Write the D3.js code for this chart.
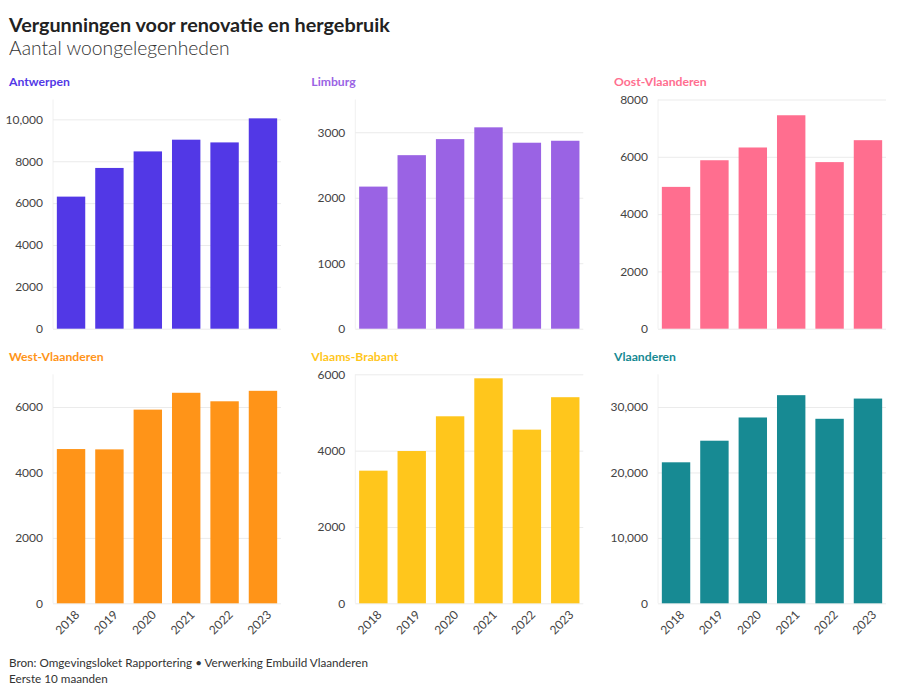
<!DOCTYPE html>
<html>
<head>
<meta charset="utf-8">
<script src="https://cdn.jsdelivr.net/npm/d3@7"></script>
<style>
  body { margin: 0; background: #fff; }
  svg { display: block; font-family: "Source Sans Pro", Lato, "Noto Sans", sans-serif; }
</style>
</head>
<body>
<svg id="chart" width="900" height="694"></svg>
<script>
const years = ["2018", "2019", "2020", "2021", "2022", "2023"];
const regions = ["Antwerpen", "Limburg", "Oost-Vlaanderen", "West-Vlaanderen", "Vlaams-Brabant", "Vlaanderen"];
const colors = ["#5238e6", "#9a63e4", "#ff6e8f", "#ff9418", "#ffc61c", "#178a93"];
const antwerpen = [6310, 7680, 8470, 9030, 8900, 10050];
const limburg = [2170, 2650, 2895, 3075, 2840, 2870];
const oostVlaanderen = [4950, 5880, 6325, 7450, 5815, 6580];
const westVlaanderen = [4715, 4705, 5920, 6435, 6175, 6495];
const vlaamsBrabant = [3475, 3990, 4900, 5895, 4550, 5400];
const vlaanderen = [21550, 24850, 28400, 31810, 28200, 31290];
const domainMax = [10950, 3500, 8000, 7000, 6000, 35000];
const tickSets = [
  [0, 2000, 4000, 6000, 8000, 10000],
  [0, 1000, 2000, 3000],
  [0, 2000, 4000, 6000, 8000],
  [0, 2000, 4000, 6000],
  [0, 2000, 4000, 6000],
  [0, 10000, 20000, 30000]
];
const seriesList = [antwerpen, limburg, oostVlaanderen, westVlaanderen, vlaamsBrabant, vlaanderen];

const svg = d3.select("#chart");

svg.append("text").attr("x", 9).attr("y", 32)
  .attr("font-size", 19.8).attr("font-weight", 700).attr("fill", "#222")
  .text("Vergunningen voor renovatie en hergebruik");
svg.append("text").attr("x", 9).attr("y", 55)
  .attr("font-size", 19.3).attr("font-weight", 300).attr("fill", "#333")
  .text("Aantal woongelegenheden");

const colX = [0, 302.3, 605];
const rows = [{ top: 99.5, bottom: 328.7 }, { top: 374.3, bottom: 603.3 }];
const fmt = v => v >= 10000 ? d3.format(",")(v) : String(v);

regions.forEach((name, i) => {
  const col = i % 3, row = Math.floor(i / 3);
  const x0 = colX[col];
  const r = rows[row];
  const g = svg.append("g").attr("transform", `translate(${x0},0)`);

  g.append("text").attr("x", 9).attr("y", r.top - 13.5)
    .attr("font-size", 12.2).attr("font-weight", 700).attr("fill", colors[i])
    .text(name);

  const x = d3.scaleBand().domain(years).range([53, 281]).paddingInner(0.26).paddingOuter(0.1);
  const y = d3.scaleLinear().domain([0, domainMax[i]]).range([r.bottom, r.top]);

  // faint vertical axis line
  g.append("line").attr("x1", 53).attr("x2", 53).attr("y1", r.top).attr("y2", r.bottom)
    .attr("stroke", "#f0f0f0").attr("stroke-width", 1);

  const yAxis = d3.axisLeft(y).tickValues(tickSets[i]).tickFormat(fmt).tickSize(-228).tickPadding(10);
  const ya = g.append("g").attr("transform", "translate(53,0)").call(yAxis);
  ya.select(".domain").remove();
  ya.selectAll(".tick line").attr("stroke", "#ebebeb");
  ya.selectAll(".tick text").attr("font-size", 12).attr("fill", "#444")
    .attr("font-family", "Source Sans Pro, Lato, Noto Sans, sans-serif");

  g.selectAll("rect.bar").data(seriesList[i]).enter().append("rect")
    .attr("class", "bar")
    .attr("x", (d, j) => x(years[j]))
    .attr("width", x.bandwidth())
    .attr("y", d => y(d))
    .attr("height", d => y(0) - y(d))
    .attr("fill", colors[i]);

  if (row === 1) {
    const xAxis = d3.axisBottom(x).tickSize(0).tickPadding(0);
    const xa = g.append("g").attr("transform", `translate(0,${r.bottom})`).call(xAxis);
    xa.select(".domain").remove();
    xa.selectAll(".tick text")
      .attr("font-size", 12).attr("fill", "#444")
      .attr("font-family", "Source Sans Pro, Lato, Noto Sans, sans-serif")
      .attr("text-anchor", "end")
      .attr("dy", null).attr("y", 0)
      .attr("transform", "translate(6,9) rotate(-45)")
      .attr("dominant-baseline", "central");
  }
});

svg.append("text").attr("x", 9).attr("y", 667)
  .attr("font-size", 11.7).attr("fill", "#333")
  .text("Bron: Omgevingsloket Rapportering • Verwerking Embuild Vlaanderen");
svg.append("text").attr("x", 9).attr("y", 683)
  .attr("font-size", 11.7).attr("fill", "#333")
  .text("Eerste 10 maanden");
</script>
</body>
</html>
